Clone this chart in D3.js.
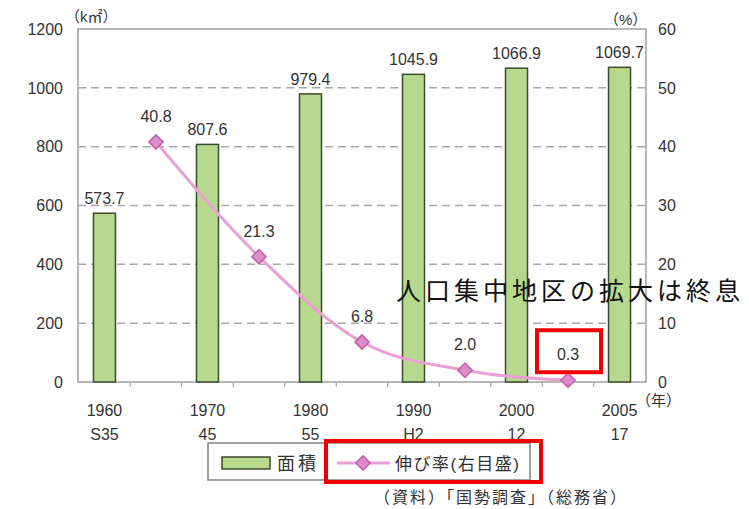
<!DOCTYPE html>
<html>
<head>
<meta charset="utf-8">
<script src="https://cdn.jsdelivr.net/npm/d3@7"></script>
<style>
  body { margin: 0; background: #fff; }
  svg { font-family: "Liberation Sans", "Noto Sans CJK JP", sans-serif; }
</style>
</head>
<body>
<svg width="749" height="509"></svg>
<script>
const years = ["1960", "1970", "1980", "1990", "2000", "2005"];
const eras = ["S35", "45", "55", "H2", "12", "17"];
const area = [573.7, 807.6, 979.4, 1045.9, 1066.9, 1069.7];
const growth = [40.8, 21.3, 6.8, 2.0, 0.3];
const leftTicks = [0, 200, 400, 600, 800, 1000, 1200];
const rightTicks = [0, 10, 20, 30, 40, 50, 60];

const svg = d3.select("svg");
const plot = { left: 78, right: 646, top: 29, bottom: 382 };

const x = d3.scalePoint()
  .domain(years)
  .range([plot.left, plot.right])
  .padding(0.257);
const step = x.step();

const yL = d3.scaleLinear().domain([0, 1200]).range([plot.bottom, plot.top]);
const yR = d3.scaleLinear().domain([0, 60]).range([plot.bottom, plot.top]);

// growth points sit halfway between bars
const growthX = (d, i) => x(years[i]) + step / 2;

// dashed grid
svg.append("g")
  .selectAll("line")
  .data(leftTicks.filter(d => d > 0 && d < 1200))
  .join("line")
  .attr("x1", plot.left).attr("x2", plot.right)
  .attr("y1", d => yL(d)).attr("y2", d => yL(d))
  .attr("stroke", "#a8a8a8")
  .attr("stroke-width", 1.5)
  .attr("stroke-dasharray", "8,5");

// frame
svg.append("rect")
  .attr("x", plot.left).attr("y", plot.top)
  .attr("width", plot.right - plot.left)
  .attr("height", plot.bottom - plot.top)
  .attr("fill", "none")
  .attr("stroke", "#a0a0a0")
  .attr("stroke-width", 1.5);

// small ticks under the x axis
const tickPos = [];
years.forEach((y, i) => {
  if (i > 0) tickPos.push(x(y) - step / 4);
  if (i < years.length - 1) tickPos.push(x(y) + step / 4);
});
svg.append("g")
  .selectAll("line")
  .data(tickPos)
  .join("line")
  .attr("x1", d => d).attr("x2", d => d)
  .attr("y1", plot.bottom).attr("y2", plot.bottom + 5)
  .attr("stroke", "#a0a0a0")
  .attr("stroke-width", 1.2);

// bars
const barW = 22;
svg.append("g")
  .selectAll("rect")
  .data(area)
  .join("rect")
  .attr("x", (d, i) => x(years[i]) - barW / 2)
  .attr("y", d => yL(d))
  .attr("width", barW)
  .attr("height", d => yL(0) - yL(d))
  .attr("fill", "#b6d98e")
  .attr("stroke", "#3c4a2c")
  .attr("stroke-width", 1.5);

svg.append("g")
  .selectAll("text")
  .data(area)
  .join("text")
  .attr("x", (d, i) => x(years[i]))
  .attr("y", d => yL(d) - 9)
  .attr("text-anchor", "middle")
  .attr("font-size", 16)
  .attr("fill", "#333")
  .text(d => d.toFixed(1));

// growth line
const line = d3.line()
  .x(growthX)
  .y(d => yR(d))
  .curve(d3.curveMonotoneX);

svg.append("path")
  .datum(growth)
  .attr("d", line)
  .attr("fill", "none")
  .attr("stroke", "#eaa0d4")
  .attr("stroke-width", 3);

const diamond = d3.symbol().type(d3.symbolDiamond2).size(130);
svg.append("g")
  .selectAll("path")
  .data(growth)
  .join("path")
  .attr("d", diamond)
  .attr("transform", (d, i) => `translate(${growthX(d, i)},${yR(d)})`)
  .attr("fill", "#dc8ccb")
  .attr("stroke", "#c060a8")
  .attr("stroke-width", 1.5);

svg.append("g")
  .selectAll("text")
  .data(growth)
  .join("text")
  .attr("x", growthX)
  .attr("y", d => yR(d) - 20)
  .attr("text-anchor", "middle")
  .attr("font-size", 16)
  .attr("fill", "#333")
  .text(d => d.toFixed(1));

// highlight box around last growth label
const last = growth.length - 1;
svg.append("rect")
  .attr("x", growthX(growth[last], last) - 31)
  .attr("y", yR(growth[last]) - 50)
  .attr("width", 64)
  .attr("height", 42)
  .attr("fill", "none")
  .attr("stroke", "#f00000")
  .attr("stroke-width", 4);

// left axis labels
svg.append("g")
  .selectAll("text")
  .data(leftTicks)
  .join("text")
  .attr("x", 63)
  .attr("y", d => yL(d))
  .attr("dy", "0.36em")
  .attr("text-anchor", "end")
  .attr("font-size", 16)
  .attr("fill", "#333")
  .text(d => d);

// right axis labels
svg.append("g")
  .selectAll("text")
  .data(rightTicks)
  .join("text")
  .attr("x", 658)
  .attr("y", d => yR(d))
  .attr("dy", "0.36em")
  .attr("font-size", 16)
  .attr("fill", "#333")
  .text(d => d);

// x labels
const xl = svg.append("g").attr("font-size", 16).attr("fill", "#333").attr("text-anchor", "middle");
xl.selectAll(".yr")
  .data(years)
  .join("text")
  .attr("class", "yr")
  .attr("x", d => x(d))
  .attr("y", 416)
  .text(d => d);
xl.selectAll(".era")
  .data(eras)
  .join("text")
  .attr("class", "era")
  .attr("x", (d, i) => x(years[i]))
  .attr("y", 440)
  .text(d => d);

svg.append("text")
  .attr("x", 636).attr("y", 406)
  .attr("font-size", 15).attr("fill", "#333")
  .text("（年）");

// units
svg.append("text")
  .attr("x", 65).attr("y", 22)
  .attr("font-size", 15).attr("fill", "#333")
  .text("（k㎡）");
svg.append("text")
  .attr("x", 604).attr("y", 25)
  .attr("font-size", 15).attr("fill", "#333")
  .text("（%）");

// annotation
svg.append("text")
  .attr("x", 396).attr("y", 300)
  .attr("font-size", 25)
  .attr("letter-spacing", 4)
  .attr("fill", "#111")
  .text("人口集中地区の拡大は終息");

// legend
const lg = svg.append("g");
lg.append("rect")
  .attr("x", 208).attr("y", 443)
  .attr("width", 322).attr("height", 37)
  .attr("fill", "#fff")
  .attr("stroke", "#808080")
  .attr("stroke-width", 1.5);
lg.append("rect")
  .attr("x", 222).attr("y", 457)
  .attr("width", 48).attr("height", 12)
  .attr("fill", "#b6d98e")
  .attr("stroke", "#3c4a2c")
  .attr("stroke-width", 1.5);
lg.append("text")
  .attr("x", 277).attr("y", 470)
  .attr("font-size", 18).attr("letter-spacing", 3).attr("fill", "#333")
  .text("面積");
lg.append("line")
  .attr("x1", 337).attr("x2", 390)
  .attr("y1", 463).attr("y2", 463)
  .attr("stroke", "#eaa0d4").attr("stroke-width", 3);
lg.append("path")
  .attr("d", diamond)
  .attr("transform", "translate(363,463)")
  .attr("fill", "#dc8ccb")
  .attr("stroke", "#c060a8")
  .attr("stroke-width", 1.5);
lg.append("text")
  .attr("x", 395).attr("y", 470)
  .attr("font-size", 17).attr("letter-spacing", 1.5).attr("fill", "#333")
  .text("伸び率(右目盛)");
lg.append("rect")
  .attr("x", 326).attr("y", 441)
  .attr("width", 215).attr("height", 41)
  .attr("fill", "none")
  .attr("stroke", "#f00000")
  .attr("stroke-width", 4);

// source
svg.append("text")
  .attr("x", 374).attr("y", 503)
  .attr("font-size", 16).attr("letter-spacing", 2).attr("fill", "#333")
  .text("（資料）「国勢調査」（総務省）");
</script>
</body>
</html>
